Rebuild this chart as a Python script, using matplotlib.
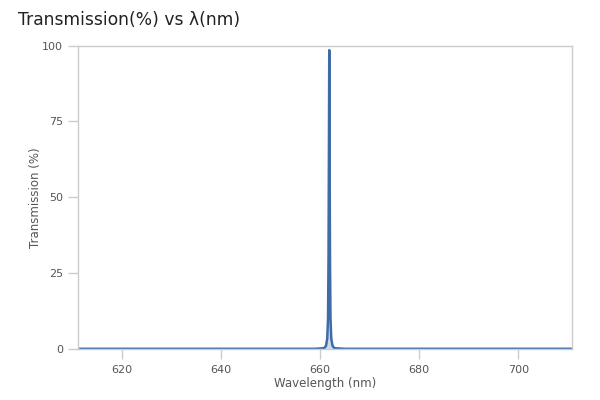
import matplotlib.pyplot as plt
import numpy as np

# transmission curve
wavelength = [611.2, 640.0, 659.0, 660.8, 661.2, 661.45, 661.6, 661.7, 661.78,
              661.85, 661.92, 662.0, 662.1, 662.25, 662.5, 662.9, 665.0, 690.0, 710.9]
transmission = [0.0, 0.0, 0.0, 0.2, 1.0, 3.5, 10.0, 30.0, 65.0,
                98.5, 65.0, 30.0, 10.0, 3.5, 1.0, 0.2, 0.0, 0.0, 0.0]

x_ticks = [620, 640, 660, 680, 700]
y_ticks = [0, 25, 50, 75, 100]

fig = plt.figure(figsize=(6, 4), dpi=100)
ax = fig.add_axes([0.1305, 0.128, 0.8233, 0.758])

line_col = '#3e6ca8'
ax.fill_between(wavelength, transmission, 0, color=line_col, alpha=0.25, lw=0)
ax.plot(wavelength, transmission, color=line_col, lw=1.8, solid_joinstyle='round')

ax.set_xlim(611.2, 710.9)
ax.set_ylim(0, 100)
ax.set_xticks(x_ticks)
ax.set_yticks(y_ticks)

for s in ax.spines.values():
    s.set_color('#cccccc')
    s.set_linewidth(1)
ax.spines['bottom'].set_color('#c0d0e0')

ax.tick_params(axis='both', colors='#cccccc', labelcolor='#555555',
               labelsize=8, length=7, width=1, pad=4)
ax.tick_params(axis='x', pad=5)

ax.set_xlabel('Wavelength (nm)', fontsize=8.5, color='#555555', labelpad=1)
ax.set_ylabel('Transmission (%)', fontsize=8.5, color='#555555', labelpad=0)

fig.text(0.03, 0.95, 'Transmission(%) vs λ(nm)', fontsize=12.3, color='#222222',
         ha='left', va='center')

fig.savefig('out.png', dpi=100)
